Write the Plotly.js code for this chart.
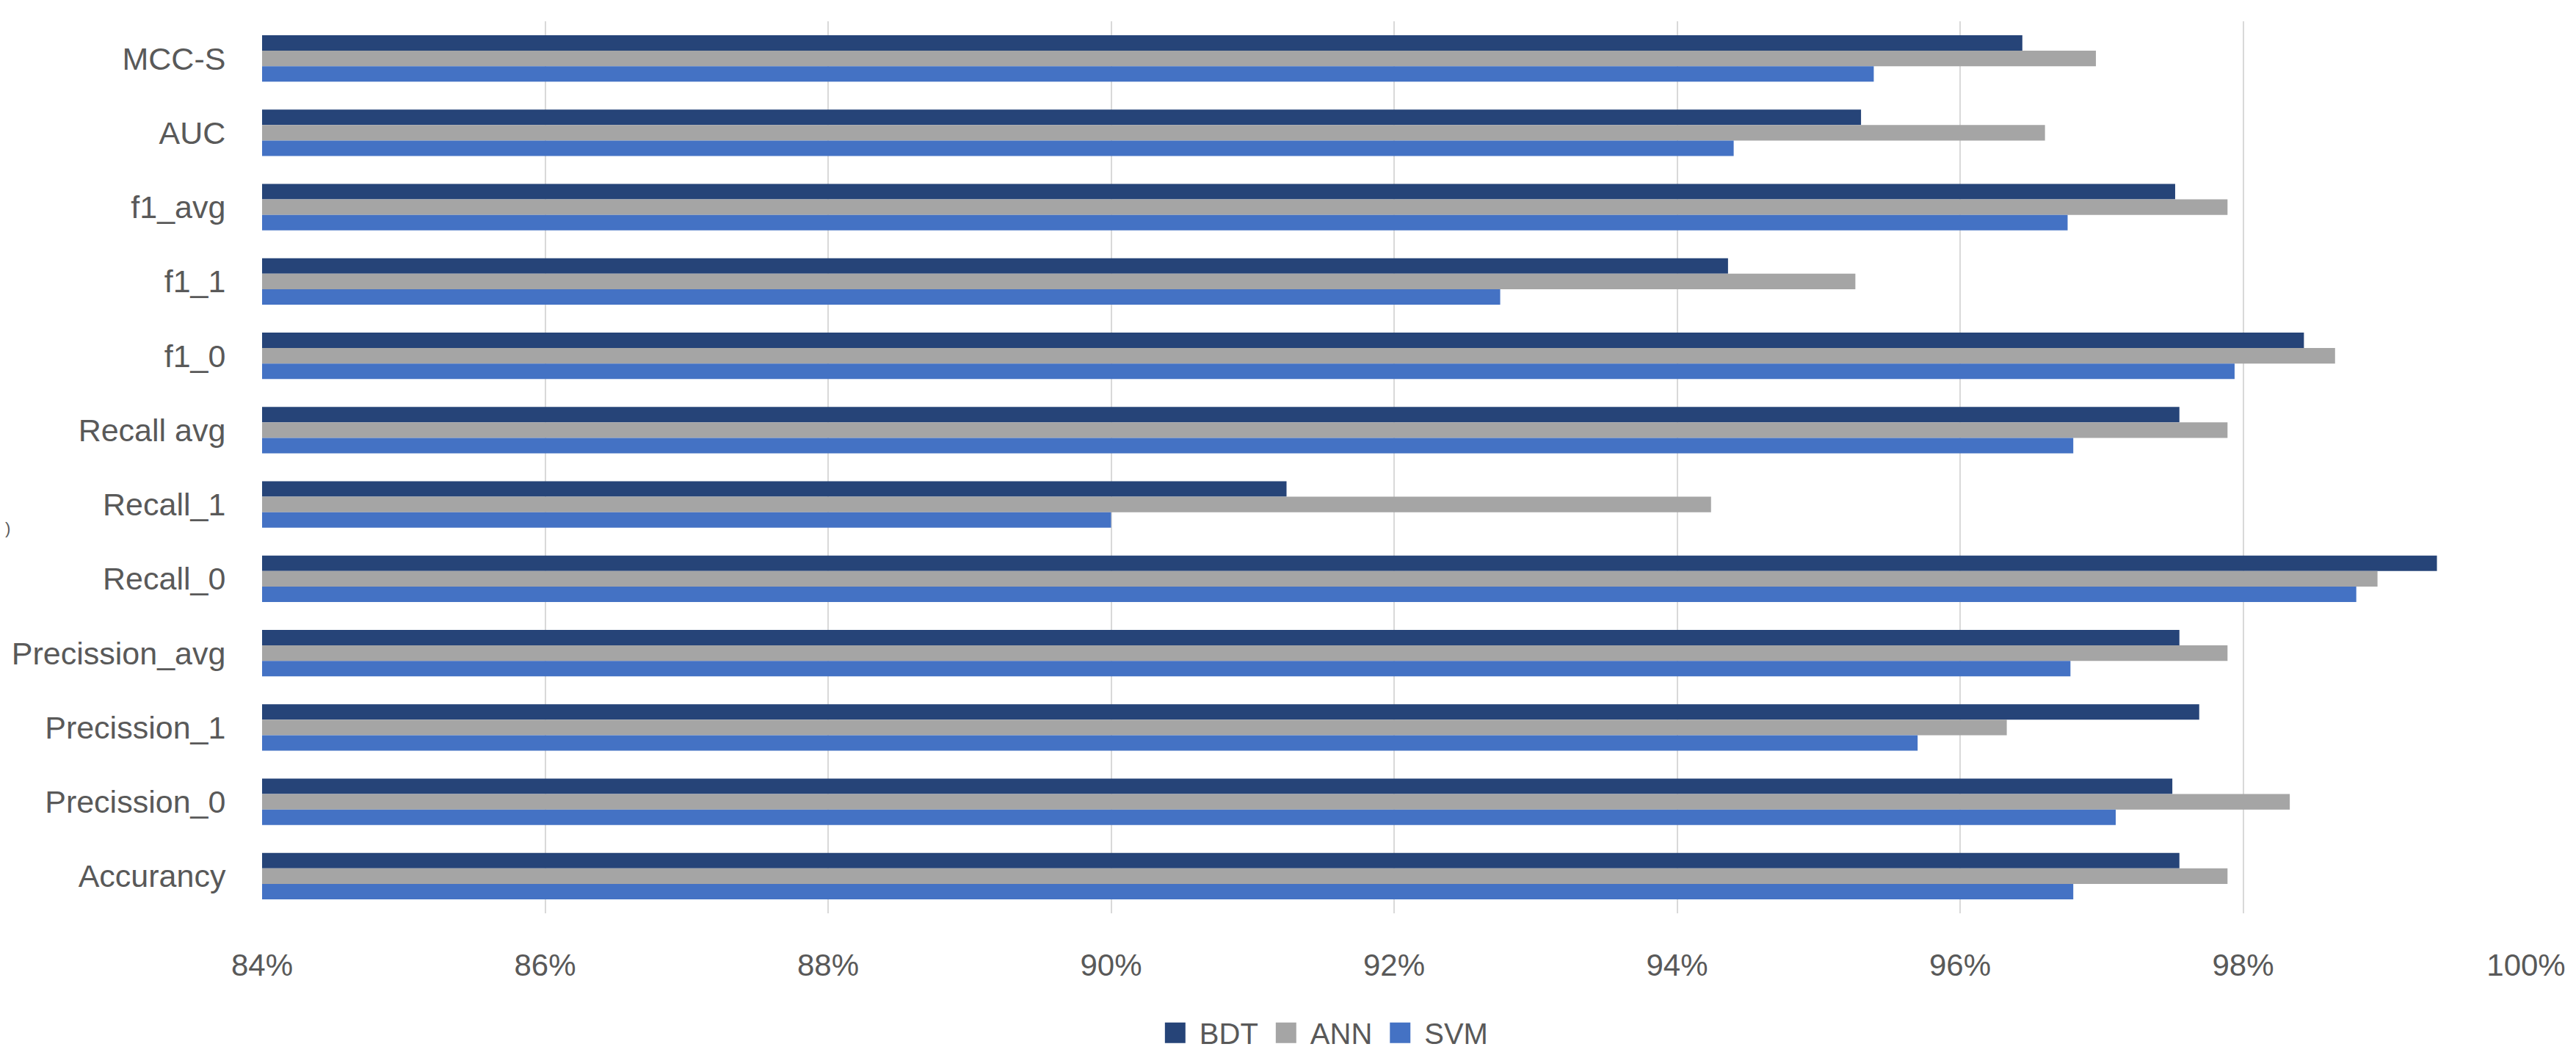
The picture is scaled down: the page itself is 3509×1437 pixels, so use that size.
<!DOCTYPE html>
<html>
<head>
<meta charset="utf-8">
<script src="https://cdn.plot.ly/plotly-3.0.1.min.js"></script>
<style>html,body{margin:0;padding:0;background:#fff;}#chart{width:3509px;height:1437px;}</style>
</head>
<body>
<div id="chart"></div>
<script>
// Categories listed top to bottom as they appear in the chart
const categories = ["MCC-S","AUC","f1_avg","f1_1","f1_0","Recall avg","Recall_1","Recall_0","Precission_avg","Precission_1","Precission_0","Accurancy"];
const bdt = [96.44, 95.30, 97.52, 94.36, 98.43, 97.55, 91.24, 99.37, 97.55, 97.69, 97.50, 97.55];
const ann = [96.96, 96.60, 97.89, 95.26, 98.65, 97.89, 94.24, 98.95, 97.89, 96.33, 98.33, 97.89];
const svm = [95.39, 94.40, 96.76, 92.75, 97.94, 96.80, 90.00, 98.80, 96.78, 95.70, 97.10, 96.80];
const seriesNames = ["BDT","ANN","SVM"];
const xTicks = [84, 86, 88, 90, 92, 94, 96, 98, 100];

const colors = ["#264478", "#A5A5A5", "#4472C4"];
const series = [bdt, ann, svm];
const traces = series.map((vals, i) => ({
  type: "bar",
  orientation: "h",
  name: seriesNames[i],
  y: categories,
  x: vals,
  marker: {color: colors[i], line: {width: 0}},
  hoverinfo: "x+y+name"
}));

const font = "Liberation Sans, Arial, sans-serif";
const layout = {
  width: 3509,
  height: 1437,
  margin: {l: 357, r: 68, t: 29, b: 193, autoexpand: false},
  paper_bgcolor: "#ffffff",
  plot_bgcolor: "#ffffff",
  barmode: "group",
  bargap: 0.374,
  bargroupgap: 0,
  font: {family: font, color: "#595959", size: 42},
  xaxis: {
    range: [84, 100],
    tickvals: xTicks,
    ticktext: xTicks.map(v => v + "%"),
    showgrid: true,
    gridcolor: "#D9D9D9",
    gridwidth: 2,
    zeroline: false,
    showline: false,
    ticks: "outside",
    ticklen: 34,
    tickcolor: "rgba(0,0,0,0)",
    tickfont: {family: font, size: 42, color: "#595959"}
  },
  yaxis: {
    type: "category",
    categoryorder: "array",
    categoryarray: categories,
    autorange: "reversed",
    showgrid: false,
    zeroline: false,
    showline: false,
    ticks: "outside",
    ticklen: 40,
    tickcolor: "rgba(0,0,0,0)",
    tickfont: {family: font, size: 43, color: "#595959"}
  },
  showlegend: true,
  legend: {
    orientation: "h",
    x: 0.468,
    xanchor: "center",
    y: -0.134,
    yanchor: "middle",
    font: {family: font, size: 40, color: "#595959"},
    itemwidth: 56,
    traceorder: "normal"
  },
  annotations: [{
    xref: "paper", yref: "paper",
    x: (10 - 357) / 3084, y: (1244 - 719) / 1215,
    xanchor: "center", yanchor: "middle",
    text: ")", showarrow: false,
    font: {family: font, size: 22, color: "#595959"}
  }]
};

Plotly.newPlot("chart", traces, layout, {displayModeBar: false, staticPlot: true}).then(gd => {
  // enlarge legend swatches (keep Plotly's own centring translate) to match the reference's square keys
  gd.querySelectorAll(".legend .legendpoints path").forEach(p => {
    const t = p.getAttribute("transform") || "";
    p.setAttribute("transform", t + " scale(2.33)");
  });
});
</script>
</body>
</html>
